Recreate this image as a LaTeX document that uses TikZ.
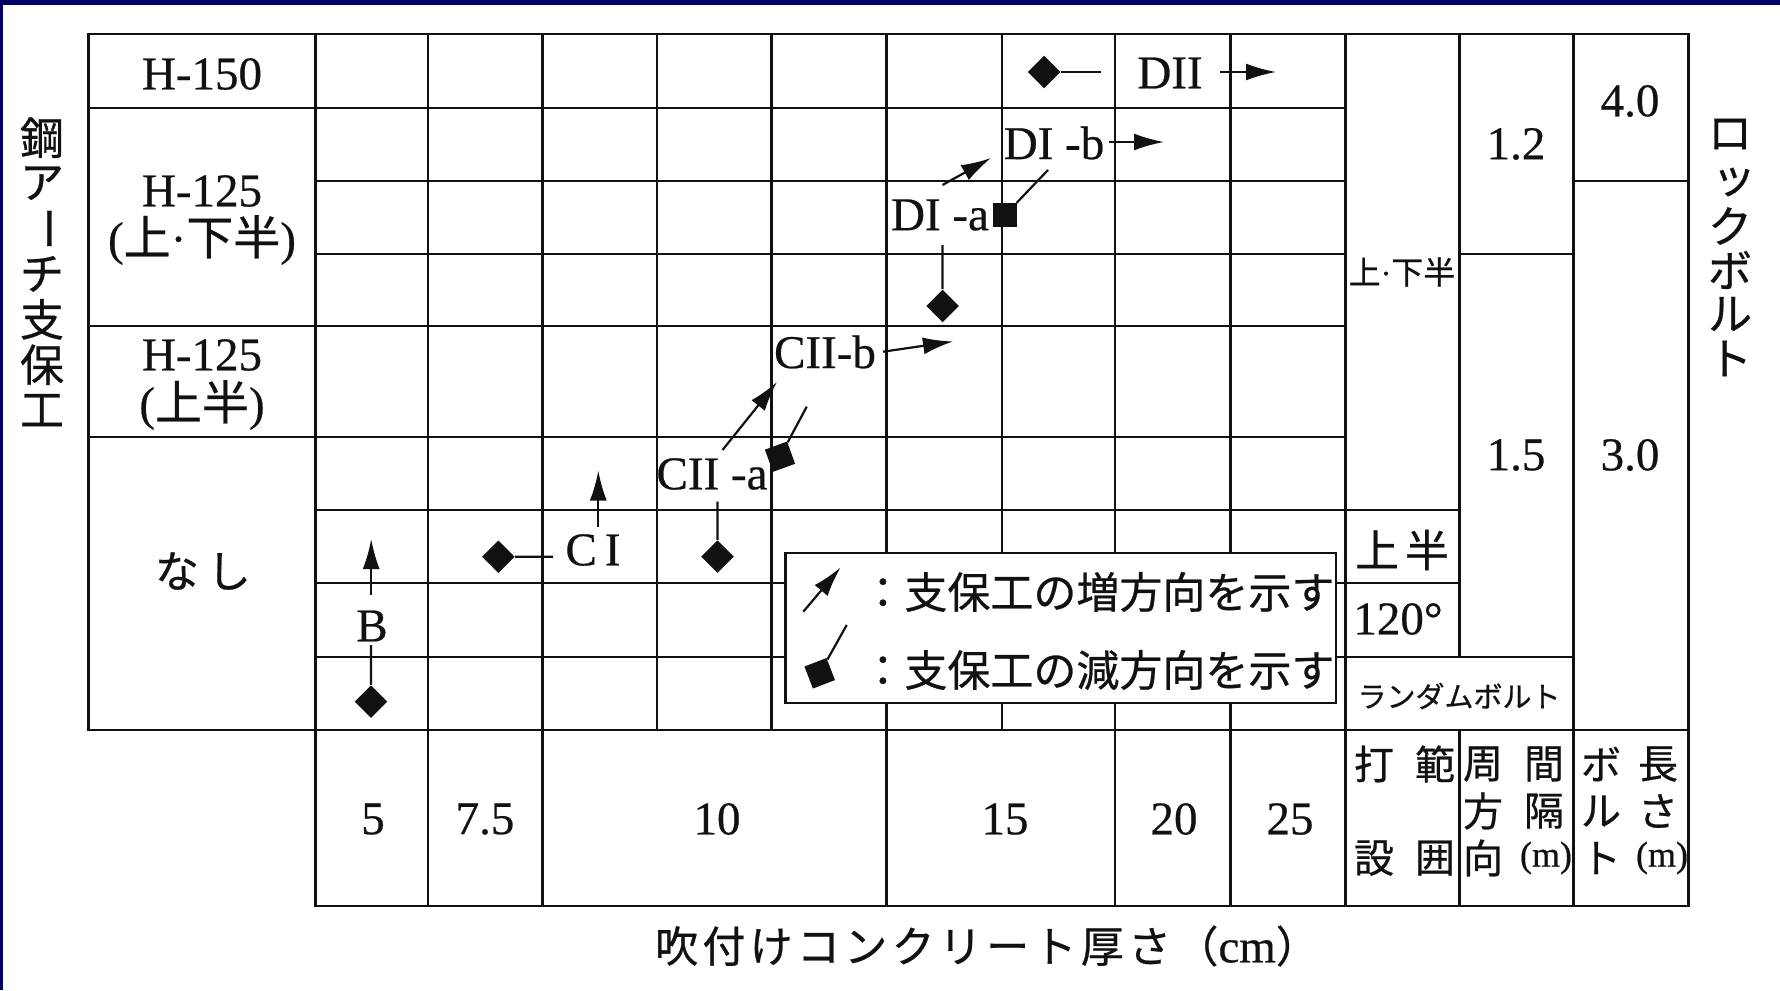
\documentclass[tikz,border=0pt]{standalone}
\usepackage{fontspec}
\usepackage{graphicx}
\setmainfont{Liberation Serif}[FakeBold=0.5]
\newfontfamily\jp{Noto Sans CJK JP}[FakeBold=0.6]
\newfontfamily\jps{Noto Sans CJK JP}[LetterSpace=10,FakeBold=0.6]
\usetikzlibrary{arrows.meta}
\definecolor{navy}{HTML}{000066}
\definecolor{ink}{HTML}{111111}
\begin{document}
\begin{tikzpicture}[x=0.5pt,y=-0.5pt,
  grid/.style={line width=1.45pt, draw=ink, line cap=rect},
  lat/.style={font=\fontsize{23.5}{28}\selectfont, inner sep=0pt, text=ink},
  jpl/.style={font=\jp\fontsize{22}{26}\selectfont, inner sep=0pt, text=ink},
  hdr/.style={font=\jp\fontsize{20}{24}\selectfont, inner sep=0pt, text=ink},
  unit/.style={font=\fontsize{18}{22}\selectfont, inner sep=0pt, text=ink},
  dia/.style={fill=ink, draw=none, rectangle, minimum size=11.5pt, inner sep=0pt, rotate=45},
  sqm/.style={fill=ink, draw=none, rectangle, minimum size=11.8pt, inner sep=0pt},
  inc/.style={line width=1.1pt, draw=ink, -{Latex[length=15pt,width=8.5pt]}},
  dec/.style={line width=1.1pt, draw=ink},
]
\useasboundingbox (0,0) rectangle (1780,990);
\fill[white] (0,0) rectangle (1780,990);
\fill[navy] (0,0) rectangle (1780,5.5);
\fill[navy] (0,0) rectangle (2.5,990);

% ---- grid: horizontal lines
\draw[grid] (88.5,34) -- (1688.5,34);
\draw[grid] (88.5,108) -- (1345.5,108);
\draw[grid] (315.5,181) -- (1345.5,181);
\draw[grid] (1573.5,181) -- (1688.5,181);
\draw[grid] (315.5,254) -- (1345.5,254);
\draw[grid] (1459.5,254) -- (1573.5,254);
\draw[grid] (88.5,326) -- (1345.5,326);
\draw[grid] (88.5,437) -- (1345.5,437);
\draw[grid] (315.5,510) -- (1459.5,510);
\draw[grid] (315.5,583) -- (1459.5,583);
\draw[grid] (315.5,657) -- (1573.5,657);
\draw[grid] (88.5,730) -- (1688.5,730);
\draw[grid] (315.5,906) -- (1688.5,906);
% ---- grid: vertical lines
\draw[grid] (88.5,34) -- (88.5,730);
\foreach \xx in {315.5,428,542.5,886.5,1115,1230.5,1345.5,1573.5,1688.5}
  \draw[grid] (\xx,34) -- (\xx,906);
\foreach \xx in {657,771.5,1002}
  \draw[grid] (\xx,34) -- (\xx,730);
\draw[grid] (1459.5,34) -- (1459.5,657);
\draw[grid] (1459.5,730) -- (1459.5,906);

% ---- left label column
\node[lat] (h150) at (202,74) {H-150};
\node[lat] (h125a) at (202,191) {H-125};
\node[lat] (h125at) at (202,240) {(\mbox{\jp 上}·\mbox{\jp 下半})};
\node[lat] (h125b) at (202,355) {H-125};
\node[lat] (h125bt) at (202,405) {(\mbox{\jp 上半})};
\node[jpl] (nashi) at (203,571) {な\kern4pt し};

% ---- vertical side titles
\node[jpl] (vl1) at (42,137.7) {鋼};
\node[jpl] (vl2) at (42,183.1) {ア};
\node[jpl] (vl3) at (42,228.5) {\rotatebox[origin=c]{-90}{ー}};
\node[jpl] (vl4) at (42,273.9) {チ};
\node[jpl] (vl5) at (42,319.3) {支};
\node[jpl] (vl6) at (42,364.7) {保};
\node[jpl] (vl7) at (42,410.1) {工};
\node[jpl] (vr1) at (1730,134) {ロ};
\node[jpl] (vr2) at (1734,182) {ッ};
\node[jpl] (vr3) at (1730,226) {ク};
\node[jpl] (vr4) at (1730,270) {ボ};
\node[jpl] (vr5) at (1730,314) {ル};
\node[jpl] (vr6) at (1730,358.5) {ト};

% ---- right columns of the upper part
\node[lat] (ud) at (1402,272) {\fontsize{16}{18}\selectfont\mbox{\jp 上}·\mbox{\jp 下半}};
\node[jpl] (uh) at (1402,550) {上\kern3pt 半};
\node[lat] (deg) at (1398,619) {120°};
\node[jpl, font=\jp\fontsize{14.5}{17}\selectfont] (rb) at (1459,696) {ランダムボルト};
\node[lat] (v12) at (1516,144) {1.2};
\node[lat] (v15) at (1516,455) {1.5};
\node[lat] (v40) at (1630,101) {4.0};
\node[lat] (v30) at (1630,455) {3.0};

% ---- lower table
\node[lat] (t5) at (373,819) {5};
\node[lat] (t75) at (485,819) {7.5};
\node[lat] (t10) at (717,819) {10};
\node[lat] (t15) at (1005,819) {15};
\node[lat] (t20) at (1174,819) {20};
\node[lat] (t25) at (1290,819) {25};
\node[hdr] (k1) at (1374,764) {打};
\node[hdr] (k2) at (1374,858) {設};
\node[hdr] (k3) at (1435,764) {範};
\node[hdr] (k4) at (1435,858) {囲};
\node[hdr] (k5) at (1483,764) {周};
\node[hdr] (k6) at (1483,811) {方};
\node[hdr] (k7) at (1483,858) {向};
\node[hdr] (k8) at (1544,764) {間};
\node[hdr] (k9) at (1544,811) {隔};
\node[unit] (k10) at (1546,858) {(m)};
\node[hdr] (k11) at (1601,764) {ボ};
\node[hdr] (k12) at (1601,811) {ル};
\node[hdr] (k13) at (1601,858) {ト};
\node[hdr] (k14) at (1658,764) {長};
\node[hdr] (k15) at (1658,811) {さ};
\node[unit] (k16) at (1662,858) {(m)};

% ---- axis title
\node[lat] (xt) at (987,946) {\mbox{\jps\fontsize{21.5}{26}\selectfont 吹付けコンクリート厚さ（}cm\mbox{\jps\fontsize{21.5}{26}\selectfont ）}};

% ---- class labels
\node[lat] (tDII) at (1170,73) {DII};
\node[lat] (tDIb) at (1054,143) {DI -b};
\node[lat] (tDIa) at (940,215) {DI -a};
\node[lat] (tCIIb) at (825,352) {CII-b};
\node[lat] (tCIIa) at (712,474) {CII -a};
\node[lat] (tCI) at (593,550) {C\kern4pt I};
\node[lat] (tB) at (372,626) {B};

% ---- markers
\node[dia] (mDII) at (1044,72) {};
\node[sqm] (mDIa) at (1005,215) {};
\node[dia] (mDIdown) at (942.5,306) {};
\node[sqm, rotate=20] (mCIIa) at (780,456.7) {};
\node[dia] (mCIIdown) at (717.5,556.7) {};
\node[dia] (mCI) at (498.3,556.7) {};
\node[dia] (mB) at (371,701.7) {};

% ---- free ends
\coordinate (cDII1) at (1101,72);
\coordinate (cDII2) at (1220,72);
\coordinate (cDII3) at (1276,72);
\coordinate (cDIb1) at (1109,142);
\coordinate (cDIb2) at (1164,142);
\coordinate (cDIab1) at (942.5,185);
\coordinate (cDIab2) at (991,158);
\coordinate (cDIba) at (1048,170);
\coordinate (cDIad) at (942.5,245);
\coordinate (cCIIb1) at (883,351.7);
\coordinate (cCIIb2) at (953,341.5);
\coordinate (cCIIab1) at (722.5,450);
\coordinate (cCIIab2) at (777,382);
\coordinate (cCIIba) at (806.7,406.7);
\coordinate (cCIIad) at (717.5,501.7);
\coordinate (cCIu1) at (598.3,526.7);
\coordinate (cCIu2) at (598.3,470.5);
\coordinate (cCIl) at (553,556.7);
\coordinate (cBu1) at (371.2,595);
\coordinate (cBu2) at (371.2,539);
\coordinate (cBd) at (371,645);

% ---- connectors
\draw[dec] (cDII1) -- (mDII);
\draw[inc] (cDII2) -- (cDII3);
\draw[inc] (cDIb1) -- (cDIb2);
\draw[inc] (cDIab1) -- (cDIab2);
\draw[dec] (cDIba) -- (mDIa);
\draw[dec] (cDIad) -- (mDIdown);
\draw[inc] (cCIIb1) -- (cCIIb2);
\draw[inc] (cCIIab1) -- (cCIIab2);
\draw[dec] (cCIIba) -- (mCIIa);
\draw[dec] (cCIIad) -- (mCIIdown);
\draw[inc] (cCIu1) -- (cCIu2);
\draw[dec] (cCIl) -- (mCI);
\draw[inc] (cBu1) -- (cBu2);
\draw[dec] (cBd) -- (mB);

% ---- legend
\node[draw=ink, line width=1.45pt, fill=white, minimum width=275.25pt, minimum height=75pt, inner sep=0pt] (leg) at (1060.75,628) {};
\coordinate (lgA1) at (803.3,611.7);
\coordinate (lgA2) at (840.5,567.5);
\draw[inc] (lgA1) -- (lgA2);
\node[sqm, rotate=21] (lgS) at (819.7,673.3) {};
\coordinate (lgD) at (846.7,625);
\draw[dec] (lgD) -- (lgS);
\node[anchor=west, inner sep=0pt, text=ink, font=\jp\fontsize{21.5}{26}\selectfont] (lg1) at (861,592) {：支保工の増方向を示す};
\node[anchor=west, inner sep=0pt, text=ink, font=\jp\fontsize{21.5}{26}\selectfont] (lg2) at (861,670) {：支保工の減方向を示す};
\end{tikzpicture}
\end{document}
